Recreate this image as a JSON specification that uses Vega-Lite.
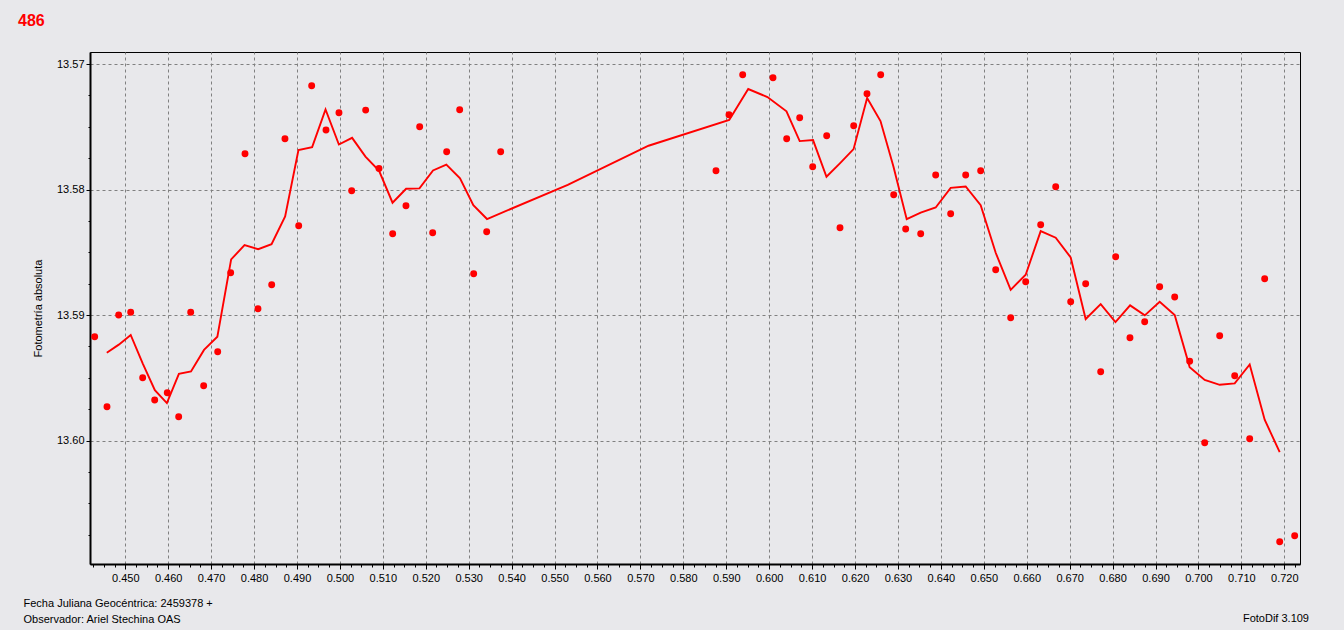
{
  "$schema": "https://vega.github.io/schema/vega-lite/v6.json",
  "width": 1210,
  "height": 512,
  "autosize": {"type": "none"},
  "padding": {"left": 90, "top": 52, "right": 44, "bottom": 66},
  "background": "#e8e8eb",
  "title": {"text": "486", "anchor": "start", "frame": "group", "dx": -72, "offset": 27, "dy": 17, "baseline": "alphabetic", "font": "Liberation Sans", "fontSize": 16, "fontWeight": "bold", "color": "#ff0000"},
  "datasets": {
    "obs": [
      {"jd": 0.44287, "mag": 13.59173}, {"jd": 0.44574, "mag": 13.59731}, {"jd": 0.44846, "mag": 13.59000}, {"jd": 0.45126, "mag": 13.58978},
      {"jd": 0.45405, "mag": 13.59500}, {"jd": 0.45685, "mag": 13.59677}, {"jd": 0.45978, "mag": 13.59619}, {"jd": 0.46244, "mag": 13.59810},
      {"jd": 0.46524, "mag": 13.58978}, {"jd": 0.46826, "mag": 13.59563}, {"jd": 0.47153, "mag": 13.59292}, {"jd": 0.47455, "mag": 13.58663},
      {"jd": 0.47789, "mag": 13.57715}, {"jd": 0.48091, "mag": 13.58950}, {"jd": 0.48411, "mag": 13.58759}, {"jd": 0.48720, "mag": 13.57595},
      {"jd": 0.49040, "mag": 13.58288}, {"jd": 0.49342, "mag": 13.57173}, {"jd": 0.49676, "mag": 13.57526}, {"jd": 0.49978, "mag": 13.57388},
      {"jd": 0.50274, "mag": 13.58010}, {"jd": 0.50600, "mag": 13.57367}, {"jd": 0.50910, "mag": 13.57833}, {"jd": 0.51229, "mag": 13.58352},
      {"jd": 0.51539, "mag": 13.58129}, {"jd": 0.51858, "mag": 13.57500}, {"jd": 0.52161, "mag": 13.58344}, {"jd": 0.52487, "mag": 13.57699},
      {"jd": 0.52790, "mag": 13.57364}, {"jd": 0.53116, "mag": 13.58671}, {"jd": 0.53419, "mag": 13.58336}, {"jd": 0.53745, "mag": 13.57699},
      {"jd": 0.58761, "mag": 13.57850}, {"jd": 0.59064, "mag": 13.57404}, {"jd": 0.59383, "mag": 13.57085}, {"jd": 0.60089, "mag": 13.57109},
      {"jd": 0.60408, "mag": 13.57595}, {"jd": 0.60711, "mag": 13.57428}, {"jd": 0.61014, "mag": 13.57818}, {"jd": 0.61340, "mag": 13.57571},
      {"jd": 0.61650, "mag": 13.58304}, {"jd": 0.61969, "mag": 13.57492}, {"jd": 0.62279, "mag": 13.57237}, {"jd": 0.62598, "mag": 13.57085},
      {"jd": 0.62901, "mag": 13.58041}, {"jd": 0.63180, "mag": 13.58315}, {"jd": 0.63530, "mag": 13.58352}, {"jd": 0.63879, "mag": 13.57884},
      {"jd": 0.64228, "mag": 13.58193}, {"jd": 0.64578, "mag": 13.57884}, {"jd": 0.64927, "mag": 13.57850}, {"jd": 0.65277, "mag": 13.58639},
      {"jd": 0.65626, "mag": 13.59022}, {"jd": 0.65976, "mag": 13.58735}, {"jd": 0.66325, "mag": 13.58280}, {"jd": 0.66675, "mag": 13.57978},
      {"jd": 0.67024, "mag": 13.58894}, {"jd": 0.67373, "mag": 13.58751}, {"jd": 0.67723, "mag": 13.59452}, {"jd": 0.68072, "mag": 13.58535},
      {"jd": 0.68405, "mag": 13.59181}, {"jd": 0.68748, "mag": 13.59053}, {"jd": 0.69097, "mag": 13.58775}, {"jd": 0.69447, "mag": 13.58857},
      {"jd": 0.69796, "mag": 13.59369}, {"jd": 0.70146, "mag": 13.60018}, {"jd": 0.70495, "mag": 13.59165}, {"jd": 0.70845, "mag": 13.59484},
      {"jd": 0.71194, "mag": 13.59986}, {"jd": 0.71543, "mag": 13.58711}, {"jd": 0.71893, "mag": 13.60806}, {"jd": 0.72242, "mag": 13.60759}
    ],
    "avg": [
      {"jd": 0.44569, "mag": 13.59301}, {"jd": 0.44849, "mag": 13.59236}, {"jd": 0.45126, "mag": 13.59159}, {"jd": 0.45405, "mag": 13.59385},
      {"jd": 0.45689, "mag": 13.59599}, {"jd": 0.45969, "mag": 13.59702}, {"jd": 0.46249, "mag": 13.59469}, {"jd": 0.46531, "mag": 13.59450},
      {"jd": 0.46834, "mag": 13.59278}, {"jd": 0.47145, "mag": 13.59173}, {"jd": 0.47466, "mag": 13.58557}, {"jd": 0.47778, "mag": 13.58443},
      {"jd": 0.48097, "mag": 13.58475}, {"jd": 0.48407, "mag": 13.58435}, {"jd": 0.48724, "mag": 13.58214}, {"jd": 0.49034, "mag": 13.57685},
      {"jd": 0.49353, "mag": 13.57662}, {"jd": 0.49665, "mag": 13.57362}, {"jd": 0.49976, "mag": 13.57641}, {"jd": 0.50284, "mag": 13.57588},
      {"jd": 0.50595, "mag": 13.57737}, {"jd": 0.50913, "mag": 13.57851}, {"jd": 0.51226, "mag": 13.58105}, {"jd": 0.51542, "mag": 13.57994},
      {"jd": 0.51853, "mag": 13.57991}, {"jd": 0.52169, "mag": 13.57848}, {"jd": 0.52479, "mag": 13.57802}, {"jd": 0.52798, "mag": 13.57911},
      {"jd": 0.53108, "mag": 13.58124}, {"jd": 0.53427, "mag": 13.58235}, {"jd": 0.55308, "mag": 13.57962}, {"jd": 0.57190, "mag": 13.57651},
      {"jd": 0.59069, "mag": 13.57446}, {"jd": 0.59512, "mag": 13.57199}, {"jd": 0.59960, "mag": 13.57263}, {"jd": 0.60403, "mag": 13.57377},
      {"jd": 0.60711, "mag": 13.57614}, {"jd": 0.61022, "mag": 13.57606}, {"jd": 0.61335, "mag": 13.57898}, {"jd": 0.61653, "mag": 13.57789},
      {"jd": 0.61966, "mag": 13.57678}, {"jd": 0.62282, "mag": 13.57271}, {"jd": 0.62593, "mag": 13.57454}, {"jd": 0.62893, "mag": 13.57814},
      {"jd": 0.63204, "mag": 13.58236}, {"jd": 0.63530, "mag": 13.58184}, {"jd": 0.63879, "mag": 13.58143}, {"jd": 0.64228, "mag": 13.57987},
      {"jd": 0.64578, "mag": 13.57976}, {"jd": 0.64927, "mag": 13.58124}, {"jd": 0.65277, "mag": 13.58504}, {"jd": 0.65626, "mag": 13.58799},
      {"jd": 0.65976, "mag": 13.58679}, {"jd": 0.66325, "mag": 13.58331}, {"jd": 0.66675, "mag": 13.58384}, {"jd": 0.67024, "mag": 13.58541},
      {"jd": 0.67373, "mag": 13.59032}, {"jd": 0.67723, "mag": 13.58913}, {"jd": 0.68067, "mag": 13.59056}, {"jd": 0.68408, "mag": 13.58923},
      {"jd": 0.68750, "mag": 13.59003}, {"jd": 0.69097, "mag": 13.58895}, {"jd": 0.69447, "mag": 13.59000}, {"jd": 0.69796, "mag": 13.59415},
      {"jd": 0.70146, "mag": 13.59517}, {"jd": 0.70495, "mag": 13.59556}, {"jd": 0.70845, "mag": 13.59545}, {"jd": 0.71194, "mag": 13.59394},
      {"jd": 0.71543, "mag": 13.59834}, {"jd": 0.71893, "mag": 13.60092}
    ]
  },
  "encoding": {
    "x": {
      "field": "jd", "type": "quantitative",
      "scale": {"domain": [0.44178, 0.72366], "nice": false, "zero": false},
      "axis": {
        "values": [0.4425,0.445,0.4475,0.45,0.4525,0.455,0.4575,0.46,0.4625,0.465,0.4675,0.47,0.4725,0.475,0.4775,0.48,0.4825,0.485,0.4875,0.49,0.4925,0.495,0.4975,0.5,0.5025,0.505,0.5075,0.51,0.5125,0.515,0.5175,0.52,0.5225,0.525,0.5275,0.53,0.5325,0.535,0.5375,0.54,0.5425,0.545,0.5475,0.55,0.5525,0.555,0.5575,0.56,0.5625,0.565,0.5675,0.57,0.5725,0.575,0.5775,0.58,0.5825,0.585,0.5875,0.59,0.5925,0.595,0.5975,0.6,0.6025,0.605,0.6075,0.61,0.6125,0.615,0.6175,0.62,0.6225,0.625,0.6275,0.63,0.6325,0.635,0.6375,0.64,0.6425,0.645,0.6475,0.65,0.6525,0.655,0.6575,0.66,0.6625,0.665,0.6675,0.67,0.6725,0.675,0.6775,0.68,0.6825,0.685,0.6875,0.69,0.6925,0.695,0.6975,0.7,0.7025,0.705,0.7075,0.71,0.7125,0.715,0.7175,0.72,0.7225],
        "labelExpr": "abs(datum.value*100-round(datum.value*100))<0.01 ? format(datum.value,'.3f') : ''",
        "labelOverlap": false,
        "labelFlush": false,
        "labelPadding": 3,
        "grid": true,
        "gridOpacity": {"condition": {"test": "abs(datum.value*100-round(datum.value*100))<0.01", "value": 1}, "value": 0},
        "tickSize": {"condition": {"test": "abs(datum.value*100-round(datum.value*100))<0.01", "value": 5}, "value": 3},
        "title": ["Fecha Juliana Geocéntrica: 2459378 +", "Observador: Ariel Stechina OAS"],
        "titleX": -67,
        "titleY": 42,
        "titleAlign": "left",
        "titleBaseline": "alphabetic",
        "titleLineHeight": 16.3
      }
    }
  },
  "layer": [
    {
      "data": {"name": "obs"},
      "mark": {"type": "point", "filled": true, "shape": "circle", "size": 48, "color": "#ff0000", "opacity": 1, "strokeWidth": 0},
      "encoding": {
        "y": {
          "field": "mag", "type": "quantitative",
          "scale": {"domain": [13.56904, 13.60984], "nice": false, "zero": false, "reverse": true},
          "axis": {
            "values": [13.57,13.5725,13.575,13.5775,13.58,13.5825,13.585,13.5875,13.59,13.5925,13.595,13.5975,13.6,13.6025,13.605,13.6075],
            "labelExpr": "abs(datum.value*100-round(datum.value*100))<0.01 ? format(datum.value,'.2f') : ''",
            "labelOverlap": false,
            "labelFlush": false,
            "labelPadding": 2,
            "grid": true,
            "gridOpacity": {"condition": {"test": "abs(datum.value*100-round(datum.value*100))<0.01", "value": 1}, "value": 0},
            "tickSize": {"condition": {"test": "abs(datum.value*100-round(datum.value*100))<0.01", "value": 4}, "value": 2},
            "title": "Fotometría absoluta",
            "titleX": -52,
            "titleY": 256,
            "titleAngle": -90,
            "titleAlign": "center",
            "titleBaseline": "middle"
          }
        }
      }
    },
    {
      "data": {"name": "avg"},
      "mark": {"type": "line", "color": "#ff0000", "strokeWidth": 1.9},
      "encoding": {
        "y": {
          "field": "mag", "type": "quantitative",
          "scale": {"domain": [13.56904, 13.60984], "nice": false, "zero": false, "reverse": true},
          "axis": {
            "orient": "right",
            "labels": false, "ticks": false, "domain": false, "grid": false,
            "title": "FotoDif 3.109",
            "titleAngle": 0,
            "titleX": 8.5,
            "titleY": 569.5,
            "titleAlign": "right",
            "titleBaseline": "alphabetic"
          }
        }
      }
    }
  ],
  "resolve": {"axis": {"y": "independent"}},
  "config": {
    "view": {"stroke": "#000000", "strokeWidth": 1},
    "axis": {
      "domainColor": "#000000",
      "domainWidth": 2,
      "tickColor": "#000000",
      "tickWidth": 1,
      "gridColor": "#808080",
      "gridDash": [3, 3],
      "gridWidth": 1,
      "labelFont": "Liberation Sans",
      "labelFontSize": 11,
      "labelColor": "#000000",
      "titleFont": "Liberation Sans",
      "titleFontSize": 11,
      "titleFontWeight": "normal",
      "titleColor": "#000000"
    }
  }
}
